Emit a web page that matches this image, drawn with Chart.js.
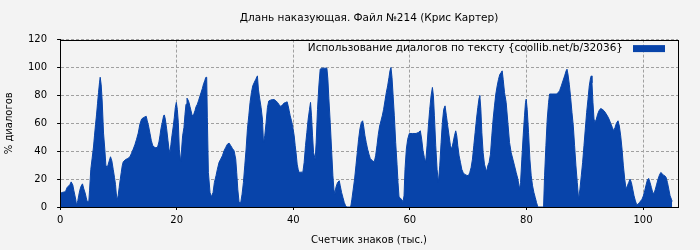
<!DOCTYPE html>
<html>
<head>
<meta charset="utf-8">
<script src="https://cdn.jsdelivr.net/npm/chart.js@4"></script>
<style>
  html, body { margin: 0; padding: 0; background: #f3f3f3; }
</style>
</head>
<body>
<canvas id="dialogChart" width="700" height="250"></canvas>
<script>
// position in text, thousands of characters
var kChars = [
    0, 0.35, 0.92, 1.21, 1.67, 1.9, 2.18, 2.35, 2.53, 2.7,
    2.81, 3.04, 3.21, 3.38, 3.61, 3.84, 4.07, 4.3, 4.47, 4.64,
    4.93, 5.05, 5.27, 5.5, 5.73, 5.9, 6.08, 6.25, 6.42, 6.59,
    6.76, 6.88, 7.05, 7.22, 7.45, 7.68, 7.85, 8.08, 8.25, 8.43,
    8.65, 8.88, 9.11, 9.34, 9.51, 9.63, 9.8, 9.97, 10.14, 10.31,
    10.49, 10.66, 10.83, 11.23, 11.63, 11.98, 12.26, 12.55, 12.83, 13.12,
    13.41, 13.69, 13.98, 14.27, 14.55, 14.78, 14.95, 15.18, 15.41, 15.64,
    15.87, 16.1, 16.44, 16.73, 16.96, 17.13, 17.3, 17.53, 17.76, 17.88,
    18.05, 18.28, 18.51, 18.68, 18.85, 19.02, 19.19, 19.42, 19.59, 19.77,
    19.94, 20.11, 20.28, 20.45, 20.68, 20.85, 21.02, 21.25, 21.43, 21.6,
    21.77, 21.94, 22.11, 22.29, 22.46, 22.63, 22.8, 22.97, 23.14, 23.32,
    23.55, 23.78, 23.95, 24.18, 24.41, 24.63, 24.81, 24.98, 25.15, 25.26,
    25.44, 25.72, 25.95, 26.24, 26.47, 26.75, 26.98, 27.27, 27.55, 27.84,
    28.13, 28.41, 28.7, 28.99, 29.27, 29.56, 29.85, 30.13, 30.3, 30.48,
    30.71, 30.99, 31.22, 31.45, 31.68, 31.91, 32.14, 32.37, 32.59, 32.82,
    33.05, 33.28, 33.57, 33.85, 34.02, 34.25, 34.48, 34.71, 34.89, 35.11,
    35.34, 35.57, 35.8, 36.15, 36.43, 36.72, 37.01, 37.29, 37.58, 37.87,
    38.15, 38.44, 38.72, 38.95, 39.12, 39.3, 39.47, 39.7, 39.93, 40.16,
    40.33, 40.5, 40.67, 40.84, 41.02, 41.3, 41.65, 41.87, 42.1, 42.33,
    42.56, 42.79, 42.96, 43.13, 43.31, 43.48, 43.76, 43.93, 44.16, 44.39,
    44.62, 44.85, 45.31, 45.77, 45.94, 46.11, 46.34, 46.57, 46.8, 46.97,
    47.14, 47.31, 47.6, 47.89, 48.06, 48.29, 48.52, 48.75, 48.98, 49.2,
    49.66, 49.89, 50.06, 50.29, 50.52, 50.75, 50.98, 51.21, 51.44, 51.67,
    51.9, 52.07, 52.3, 52.52, 52.75, 52.98, 53.21, 53.61, 53.9, 54.13,
    54.36, 54.59, 54.82, 55.05, 55.27, 55.5, 55.73, 55.96, 56.19, 56.42,
    56.59, 56.76, 56.94, 57.11, 57.34, 57.57, 57.8, 57.97, 58.14, 58.37,
    58.6, 58.83, 59.0, 59.17, 59.4, 59.63, 59.91, 60.49, 61.06, 61.46,
    61.8, 62.03, 62.26, 62.49, 62.72, 62.95, 63.18, 63.41, 63.64, 63.87,
    64.04, 64.21, 64.44, 64.67, 64.9, 65.13, 65.36, 65.58, 65.81, 66.04,
    66.27, 66.5, 66.73, 66.96, 67.19, 67.42, 67.65, 67.87, 68.05, 68.22,
    68.45, 68.68, 68.91, 69.14, 69.36, 69.71, 70.05, 70.28, 70.51, 70.74,
    70.97, 71.2, 71.43, 71.66, 71.89, 72.0, 72.18, 72.35, 72.57, 72.8,
    73.03, 73.2, 73.37, 73.6, 73.83, 74.06, 74.29, 74.52, 74.75, 74.98,
    75.21, 75.43, 75.66, 75.84, 76.01, 76.24, 76.52, 76.81, 77.1, 77.38,
    77.67, 77.96, 78.24, 78.53, 78.81, 78.99, 79.21, 79.44, 79.67, 79.84,
    79.96, 80.13, 80.36, 80.59, 80.82, 81.05, 81.28, 81.51, 81.73, 81.96,
    82.94, 83.11, 83.34, 83.57, 83.8, 83.97, 84.54, 85.12, 85.4, 85.69,
    85.98, 86.26, 86.55, 86.84, 86.95, 87.12, 87.35, 87.58, 87.81, 88.04,
    88.26, 88.49, 88.72, 88.95, 89.18, 89.41, 89.64, 89.87, 90.1, 90.33,
    90.56, 90.78, 91.01, 91.13, 91.24, 91.41, 91.59, 91.76, 91.99, 92.22,
    92.45, 92.73, 93.02, 93.31, 93.59, 93.88, 94.17, 94.45, 94.74, 94.97,
    95.2, 95.43, 95.71, 95.94, 96.17, 96.4, 96.63, 96.86, 97.09, 97.32,
    97.55, 97.77, 98.0, 98.23, 98.46, 98.69, 98.92, 99.15, 99.38, 99.61,
    99.83, 100.06, 100.29, 100.52, 100.75, 100.97, 101.2, 101.43, 101.66, 101.89,
    102.12, 102.35, 102.58, 102.81, 103.04, 103.27, 103.5, 103.73, 103.96, 104.19,
    104.42, 104.64, 104.87, 105.0
];

// share of dialogue, %
var dialogPct = [
    9.7, 10.4, 11, 14, 16, 18, 15.8, 12, 8.5, 5,
    1.3, 4.5, 8.5, 12, 15, 16.6, 13, 10, 7, 4,
    4, 11.6, 27, 35, 43, 51, 59, 66, 74, 82,
    89, 93, 87.6, 76, 53, 41, 30, 28, 30.5, 33,
    36, 33, 27, 21, 16, 10, 4.7, 8.5, 14, 19.5,
    24.7, 29.5, 32.4, 34, 34.8, 36, 38.6, 41.5, 44.6, 48.6,
    53, 59.4, 63, 64, 64.6, 65, 61.8, 58, 53, 47.8,
    44.3, 43, 42.4, 43, 46.6, 51, 56, 60.6, 65.4, 66,
    63, 56, 47.5, 41.5, 39, 45, 51, 58, 64, 71.4,
    75, 70, 60.6, 41.5, 32.4, 41.5, 51, 57, 66.5, 73.7,
    78, 76.8, 75, 71.8, 69, 66, 64.6, 67, 69, 71.8,
    73.7, 76.6, 79, 82, 85, 88.5, 90.4, 92.8, 93, 64,
    24.7, 10.4, 7.3, 10.4, 17.6, 22.4, 27, 32, 34.3, 36.7,
    40.3, 42.7, 45, 45.8, 44, 42, 40.3, 34.3, 24.7, 12.8,
    3.2, 3.2, 9.2, 17.6, 29.5, 41.5, 56, 65.4, 75, 82,
    86.8, 89, 91.5, 94, 84.5, 77.5, 71.4, 63, 46, 51,
    60.6, 71.4, 76, 76.7, 77, 77, 76.2, 75, 73.3, 72,
    73.3, 74.5, 75, 75.4, 72.5, 69, 65.4, 61.8, 57, 51,
    44, 38, 30.7, 27, 24.7, 25, 25, 32, 44, 53.4,
    63, 70, 75, 65.4, 51, 39, 34.3, 46, 70, 86.8,
    98.8, 99.5, 99.5, 99.5, 91.5, 77.5, 60.6, 41.5, 22.4, 12.8,
    9.2, 14, 17.6, 18.8, 15.2, 10.4, 6.8, 3.2, 0.9, 0,
    0, 0.9, 5.6, 12.8, 20, 29.5, 39, 48.6, 56, 60.6,
    61.8, 58, 51, 46.2, 41.5, 37.9, 34.8, 33, 32.4, 36.7,
    44, 52, 58, 61.8, 65.4, 70, 76, 82, 86.8, 92.8,
    97.6, 100, 92.8, 81, 65.4, 46.2, 30.7, 17.6, 7.3, 6.4,
    5.2, 4, 8, 27, 41.5, 48.6, 52.7, 52.7, 52.7, 53.4,
    54.6, 48.6, 40.3, 35.5, 32, 44, 58, 70, 79.7, 85.7,
    79.7, 65.4, 44, 27, 17.6, 29.5, 46.2, 60.6, 70, 72.5,
    65.4, 58, 51, 44, 41.5, 46.2, 51, 54.6, 51, 44,
    36.7, 32, 27, 24.7, 23.5, 22.8, 22.4, 24.7, 28.3, 34.3,
    44, 53.4, 63, 71.4, 78.5, 80, 70, 53.4, 39, 30.7,
    27, 26, 29.5, 32, 37.9, 51, 63, 72.5, 81, 86.8,
    91.5, 95, 96.4, 97.6, 91.5, 82, 75, 60.6, 46.2, 39,
    34.3, 29.5, 24.7, 20, 12.8, 17.6, 34.3, 51, 65.4, 75,
    77.3, 70, 53.4, 34.3, 22.4, 15.2, 10.4, 6.8, 3.2, 0,
    0, 22.4, 44, 63, 75, 81, 81, 81, 81.7, 83.4,
    86.8, 90.4, 94, 98, 98.8, 95.3, 88, 78.5, 67.8, 58,
    44, 29.5, 17.6, 5.6, 12.8, 22.4, 32, 44, 56, 67.8,
    77.3, 86.8, 92.8, 94, 89, 75, 63, 60.6, 63, 66.5,
    69, 70.6, 70, 69, 67.3, 65.4, 63, 60, 57, 54.6,
    57, 60, 61.8, 58, 51, 41.5, 29.5, 20, 12.8, 15.2,
    17.6, 20, 17.6, 12.8, 8, 4.4, 1.6, 2, 3.2, 4.4,
    5.6, 8, 11.6, 15.7, 19.5, 20.5, 17.6, 14, 10.4, 9.7,
    12.8, 16.4, 20, 22.8, 24.7, 24, 22.8, 22.4, 21.2, 17.6,
    12.8, 8, 5.6, 4
];

var xTickValues = [0, 20, 40, 60, 80, 100];
var yTickValues = [0, 20, 40, 60, 80, 100, 120];

var chartTitle = 'Длань наказующая. Файл №214 (Крис Картер)';
var seriesLabel = 'Использование диалогов по тексту {coollib.net/b/32036}';
var xTitle = 'Счетчик знаков (тыс.)';
var yTitle = '% диалогов';

var fillColor = '#0844aa';

Chart.defaults.font.family = "'DejaVu Sans', sans-serif";
Chart.defaults.font.size = 10;
Chart.defaults.color = '#000';

// plot frame + legend drawn inside the plot, top right
var framePlugin = {
    id: 'frameAndLegend',
    afterDraw: (chart) => {
        var ctx = chart.ctx;
        var a = chart.chartArea;
        ctx.save();
        ctx.strokeStyle = '#000';
        ctx.lineWidth = 1;
        var l = Math.round(a.left) + 0.5, t = Math.round(a.top) + 0.5;
        var r = Math.round(a.right) + 0.5, b = Math.round(a.bottom) + 0.5;
        ctx.strokeRect(l, t, r - l, b - t);

        var boxW = 32, boxH = 7;
        var boxX = a.right - 13 - boxW;
        var cy = a.top + 9;
        ctx.fillStyle = fillColor;
        ctx.fillRect(boxX, cy - boxH / 2, boxW, boxH);
        ctx.fillStyle = '#000';
        ctx.font = "10.5px 'DejaVu Sans', sans-serif";
        ctx.textAlign = 'right';
        ctx.textBaseline = 'middle';
        ctx.fillText(seriesLabel, boxX - 10, cy);
        ctx.restore();
    }
};

new Chart(document.getElementById('dialogChart'), {
    type: 'line',
    data: {
        datasets: [{
            label: seriesLabel,
            data: kChars.map((x, i) => ({x: x, y: dialogPct[i]})),
            borderColor: fillColor,
            backgroundColor: fillColor,
            borderWidth: 1,
            fill: 'origin',
            tension: 0,
            pointRadius: 0
        }]
    },
    options: {
        responsive: false,
        animation: false,
        layout: {
            padding: {left: 0, right: 22, top: 0, bottom: 2}
        },
        scales: {
            x: {
                type: 'linear',
                min: 0,
                max: 106,
                afterBuildTicks: (scale) => {
                    scale.ticks = xTickValues.map(v => ({value: v}));
                },
                ticks: {
                    padding: 4,
                    maxRotation: 0,
                    color: '#000'
                },
                grid: {
                    color: '#a0a0a0',
                    tickColor: '#000',
                    tickLength: 3
                },
                border: {
                    color: '#000',
                    dash: [3, 2]
                },
                title: {
                    display: true,
                    text: xTitle,
                    color: '#000',
                    padding: {top: 4, bottom: 2}
                }
            },
            y: {
                min: 0,
                max: 120,
                afterBuildTicks: (scale) => {
                    scale.ticks = yTickValues.map(v => ({value: v}));
                },
                ticks: {
                    padding: 10,
                    color: '#000'
                },
                grid: {
                    color: '#a0a0a0',
                    tickColor: '#000',
                    tickLength: 3
                },
                border: {
                    color: '#000',
                    dash: [3, 2]
                },
                title: {
                    display: true,
                    text: yTitle,
                    color: '#000',
                    padding: {top: 3, bottom: 3}
                }
            }
        },
        plugins: {
            legend: {
                display: false
            },
            tooltip: {
                enabled: false
            },
            title: {
                display: true,
                text: chartTitle,
                fullSize: false,
                color: '#000',
                font: {
                    size: 10.5,
                    weight: 'normal'
                },
                padding: {top: 12, bottom: 15}
            }
        }
    },
    plugins: [framePlugin]
});
</script>
</body>
</html>
